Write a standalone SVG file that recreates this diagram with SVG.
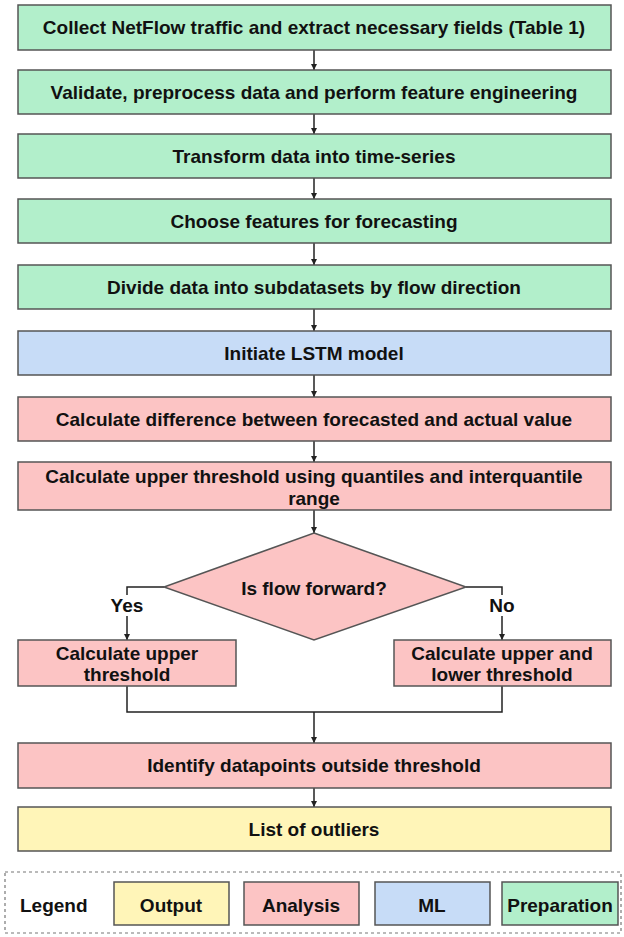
<svg xmlns="http://www.w3.org/2000/svg" width="624" height="937" viewBox="0 0 624 937">
<defs>
<style>
.prep{fill:#b2efcb;stroke:#555;stroke-width:1.5}
.ml{fill:#c7dcf7;stroke:#555;stroke-width:1.5}
.ana{fill:#fcc4c4;stroke:#555;stroke-width:1.5}
.out{fill:#fff5b8;stroke:#555;stroke-width:1.5}
text{font-family:"Liberation Sans",Arial,sans-serif;font-weight:bold;font-size:19px;fill:#111;text-anchor:middle}
.conn{fill:none;stroke:#222;stroke-width:1.5}
</style>
<marker id="arr" markerWidth="8" markerHeight="8" refX="6" refY="3" orient="auto" markerUnits="userSpaceOnUse">
<path d="M0,0 L6,3 L0,6 Z" fill="#222"/>
</marker>
</defs>
<rect width="624" height="937" fill="#fff"/>
<g id="connectors">
<path class="conn" d="M314,50 V70" marker-end="url(#arr)"/>
<path class="conn" d="M314,114 V134" marker-end="url(#arr)"/>
<path class="conn" d="M314,178 V199" marker-end="url(#arr)"/>
<path class="conn" d="M314,243 V265" marker-end="url(#arr)"/>
<path class="conn" d="M314,309 V331" marker-end="url(#arr)"/>
<path class="conn" d="M314,375 V397" marker-end="url(#arr)"/>
<path class="conn" d="M314,441 V462" marker-end="url(#arr)"/>
<path class="conn" d="M314,510 V533" marker-end="url(#arr)"/>
<path class="conn" d="M164,587 H127 V595"/>
<path class="conn" d="M127,616 V640" marker-end="url(#arr)"/>
<path class="conn" d="M466,587 H502 V595"/>
<path class="conn" d="M502,616 V640" marker-end="url(#arr)"/>
<path class="conn" d="M127,686 V712 H502 V686"/>
<path class="conn" d="M314,712 V743" marker-end="url(#arr)"/>
<path class="conn" d="M314,788 V807" marker-end="url(#arr)"/>
</g>
<g id="n1"><rect class="prep" x="18" y="5" width="593" height="45"/><text x="314" y="34">Collect NetFlow traffic and extract necessary fields (Table 1)</text></g>
<g id="n2"><rect class="prep" x="18" y="70" width="593" height="44"/><text x="314" y="99">Validate, preprocess data and perform feature engineering</text></g>
<g id="n3"><rect class="prep" x="18" y="134" width="593" height="44"/><text x="314" y="163">Transform data into time-series</text></g>
<g id="n4"><rect class="prep" x="18" y="199" width="593" height="44"/><text x="314" y="228">Choose features for forecasting</text></g>
<g id="n5"><rect class="prep" x="18" y="265" width="593" height="44"/><text x="314" y="294">Divide data into subdatasets by flow direction</text></g>
<g id="n6"><rect class="ml" x="18" y="331" width="593" height="44"/><text x="314" y="360">Initiate LSTM model</text></g>
<g id="n7"><rect class="ana" x="18" y="397" width="593" height="44"/><text x="314" y="426">Calculate difference between forecasted and actual value</text></g>
<g id="n8"><rect class="ana" x="18" y="462" width="593" height="48"/><text x="314" y="483">Calculate upper threshold using quantiles and interquantile</text><text x="314" y="505">range</text></g>
<g id="n9"><polygon class="ana" points="314,533 466,587 314,640 164,587"/><text x="314" y="595">Is flow forward?</text></g>
<text x="127" y="612">Yes</text>
<text x="502" y="612">No</text>
<g id="n10"><rect class="ana" x="18" y="640" width="218" height="46"/><text x="127" y="660">Calculate upper</text><text x="127" y="681">threshold</text></g>
<g id="n11"><rect class="ana" x="394" y="640" width="217" height="46"/><text x="502" y="660">Calculate upper and</text><text x="502" y="681">lower threshold</text></g>
<g id="n12"><rect class="ana" x="18" y="743" width="593" height="45"/><text x="314" y="772">Identify datapoints outside threshold</text></g>
<g id="n13"><rect class="out" x="18" y="807" width="593" height="44"/><text x="314" y="836">List of outliers</text></g>
<g id="legend">
<rect x="5" y="872" width="616" height="61" fill="none" stroke="#777" stroke-width="1.2" stroke-dasharray="3,3"/>
<text x="20" y="912" style="text-anchor:start">Legend</text>
<rect class="out" x="114" y="882" width="115" height="43"/><text x="171" y="912">Output</text>
<rect class="ana" x="244" y="882" width="115" height="43"/><text x="301" y="912">Analysis</text>
<rect class="ml" x="375" y="882" width="115" height="43"/><text x="432" y="912">ML</text>
<rect class="prep" x="502" y="882" width="116" height="43"/><text x="560" y="912">Preparation</text>
</g>
</svg>
